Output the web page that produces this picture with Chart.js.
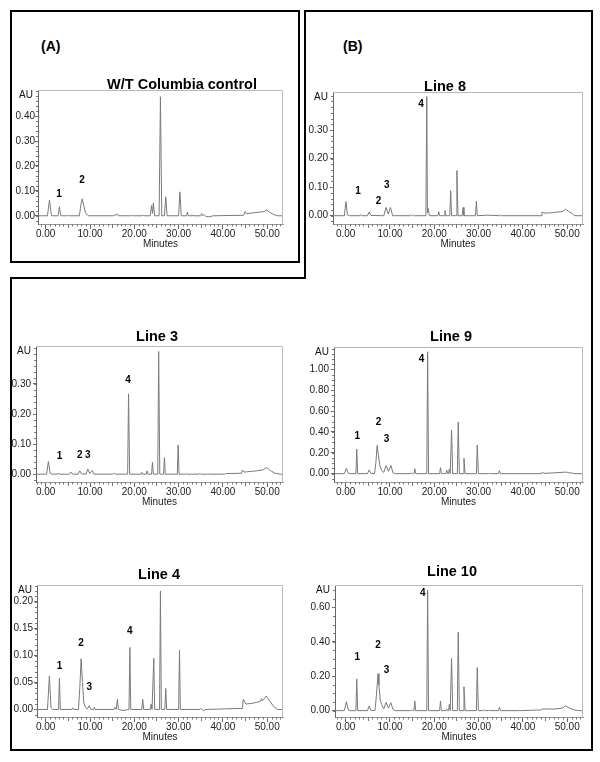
<!DOCTYPE html>
<html lang="en">
<head>
<meta charset="UTF-8">
<title>HPLC chromatograms | W/T and lines</title>
<script src="https://cdn.jsdelivr.net/npm/chart.js"></script>
<style>
  body { margin: 0; background: #fff; width: 600px; height: 762px; position: relative; overflow: hidden;
         font-family: "Liberation Sans", Arial, sans-serif; }
  canvas { position: absolute; }
  .tag { position: absolute; font-weight: bold; font-size: 14px; line-height: 14px; color: #000; }
  svg { position: absolute; left: 0; top: 0; pointer-events: none; }
</style>
</head>
<body>
<div class="tag" style="left:41px;top:39px">(A)</div>
<div class="tag" style="left:343px;top:39px">(B)</div>

<canvas id="cWT"></canvas>
<canvas id="cL8"></canvas>
<canvas id="cL3"></canvas>
<canvas id="cL9"></canvas>
<canvas id="cL4"></canvas>
<canvas id="cL10"></canvas>

<svg width="600" height="762">
  <rect x="11" y="11" width="288" height="251" fill="none" stroke="#000" stroke-width="2"/>
  <polygon points="305,11 592,11 592,750 11,750 11,278 305,278" fill="none" stroke="#000" stroke-width="2"/>
</svg>

<script>
// x ticks (minutes), shared by all panels
const minuteTicks = [0, 10, 20, 30, 40, 50];

// traces: [minutes, AU]
const wtTrace = [[-1.9,0],[0.4,0],[0.85,0.063],[1.3,0],[2.8,0],[3.1,0.036],[3.4,0],[4.9,0],[5.1,0.003],[5.3,0],
  [7.6,0],[8.0,0.05],[8.25,0.068],[8.6,0.04],[9.0,0.012],[9.6,0],[15.4,0],[15.6,0.005],[15.9,0.001],[16.2,0.008],[16.5,0],
  [19.2,0],[19.4,0.002],[19.6,0],[21.7,0],[21.9,0.004],[22.1,0],[23.6,0],[23.9,0.041],[24.1,0.01],[24.3,0.052],[24.6,0],
  [25.6,0],[25.9,0.478],[26.2,0],[26.8,0],[27.1,0.076],[27.4,0],[30.0,0],[30.3,0.096],[30.6,0],[31.8,0],[32.0,0.015],[32.2,0],
  [32.8,0],[33.0,0.004],[33.2,0],[35.0,0],[35.2,0.009],[35.4,0.001],[35.8,0.004],[36.2,-0.003],[37.0,-0.004],[37.8,0],
  [44.7,0.002],[45.0,0.017],[45.3,0.008],[46.5,0.011],[48.0,0.014],[49.3,0.017],[49.8,0.024],[50.5,0.015],[51.5,0.005],[52.3,0],[53.6,0]];
const wtPeaks = [['1',3.0,0.087],['2',8.2,0.143]];
const wtAUTicks = [0, 0.1, 0.2, 0.3, 0.4];

const l8Trace = [[-2.9,0],[-0.3,0],[0.05,0.049],[0.4,0.003],[0.8,0],[3.3,0],[3.5,0.004],[3.7,0],[4.9,0],[5.3,0.013],[5.7,0.001],
  [8.6,0],[9.1,0.029],[9.6,0.006],[10.1,0.029],[10.6,0],[14.5,0],[14.7,0.003],[14.9,0],[15.1,0],[15.3,0.003],[15.5,0],
  [18.1,0],[18.3,0.417],[18.45,0.01],[18.6,0.026],[18.9,0],[20.8,0],[21.0,0.014],[21.2,0],[22.2,0],[22.4,0.018],[22.6,0],
  [23.5,0],[23.7,0.088],[23.9,0],[24.9,0],[25.1,0.158],[25.35,0],[26.3,0],[26.5,0.029],[26.7,0],[29.3,0],[29.5,0.051],[29.7,0],
  [32.0,0.002],[34.8,0],[35.0,0.003],[35.2,0],[44.1,0],[44.3,0.013],[45.0,0.009],[47.0,0.011],[48.5,0.014],[49.0,0.015],
  [49.6,0.023],[50.3,0.015],[51.0,0.009],[51.7,0],[53.6,0]];
const l8Peaks = [['1',2.8,0.086],['2',7.4,0.049],['3',9.3,0.106],['4',17.0,0.39]];
const l8AUTicks = [0, 0.1, 0.2, 0.3];

const l3Trace = [[-2,0],[0.2,0],[0.6,0.042],[1.0,0.003],[1.4,0],[2.7,0],[2.9,0.004],[3.1,0],[5.3,0],[5.7,0.007],[6.1,0],
  [7.3,0],[7.7,0.011],[8.1,0.001],[9.1,0],[9.5,0.017],[9.95,0.002],[10.5,0.012],[10.9,0],[15.1,0],[15.3,0.002],[15.6,0.002],[15.8,0],
  [18.5,0],[18.7,0.267],[18.95,0],[21.5,0],[21.7,0.006],[21.9,0],[22.7,0],[22.9,0.011],[23.1,0],[23.9,0],[24.1,0.04],[24.3,0],
  [25.3,0],[25.5,0.408],[25.75,0],[26.6,0],[26.8,0.055],[27.0,0],[29.7,0],[29.9,0.097],[30.1,0],[31.6,0],[31.8,0.002],[32.0,0],
  [34.6,0],[34.8,0.003],[35.0,0],[36.5,0],[36.7,0.001],[36.9,0],[40.4,0],[40.6,0.002],[44.2,0.003],[44.4,0.014],[44.8,0.007],
  [45.5,0.008],[47.5,0.011],[49.0,0.014],[49.9,0.022],[50.7,0.012],[51.8,0.003],[53.0,0],[53.6,0]];
const l3Peaks = [['1',3.1,0.061],['2',7.7,0.063],['3',9.5,0.064],['4',18.6,0.313]];
const l3AUTicks = [0, 0.1, 0.2, 0.3];

const l9Trace = [[-2.9,0],[-0.3,0],[0.15,0.051],[0.6,0.003],[1.0,0],[2.3,0],[2.5,0.236],[2.7,0],[4.9,0],[5.3,0.035],[5.7,0.002],
  [6.5,0],[6.8,0.1],[7.1,0.272],[7.3,0.2],[7.7,0.08],[8.1,0.03],[8.6,0.012],[9.1,0.077],[9.65,0.022],[10.2,0.08],[10.7,0.005],[11.2,0],
  [14.7,0],[14.9,0.006],[15.1,0],[15.4,0],[15.6,0.048],[15.8,0],[18.3,0],[18.5,1.169],[18.7,0],[21.2,0],[21.4,0.058],[21.6,0],
  [22.6,0],[22.8,0.035],[23.0,0],[23.2,0],[23.4,0.045],[23.6,0],[23.7,0],[23.9,0.419],[24.15,0],[25.2,0],[25.4,0.495],[25.65,0],
  [26.5,0],[26.7,0.147],[26.95,0],[29.5,0],[29.7,0.275],[29.95,0],[32.2,0],[32.4,0.003],[32.6,0],[34.5,0],[34.7,0.029],[34.95,0],
  [44.2,0],[44.4,0.016],[44.7,0.003],[47.2,0.008],[49.8,0.015],[50.6,0.006],[51.0,0.01],[51.3,0.002],[52.0,0],[53.6,0]];
const l9Peaks = [['1',2.6,0.361],['2',7.4,0.489],['3',9.2,0.332],['4',17.1,1.102]];
const l9AUTicks = [0, 0.2, 0.4, 0.6, 0.8, 1.0];

const l4Trace = [[-2,0],[0.4,0],[0.83,0.062],[1.2,0.003],[1.6,0],[2.9,0],[3.1,0.058],[3.3,0],[5.9,0],[6.1,0.003],[6.3,0],
  [7.4,0],[7.7,0.04],[8.0,0.094],[8.3,0.05],[8.6,0.012],[9.0,0.004],[9.4,0.001],[9.8,0.007],[10.2,0],[10.8,0],[11.0,0.004],[11.2,0],
  [15.4,0],[15.6,0.004],[15.9,0],[16.0,0],[16.2,0.019],[16.4,0],[17.4,-0.002],[18.8,0],[19.0,0.115],[19.2,0],[21.7,0],[21.9,0.019],[22.1,0],
  [23.6,0],[23.8,0.01],[24.0,0],[24.2,0],[24.4,0.095],[24.6,0],[25.7,0],[25.9,0.22],[26.1,0],[26.9,0],[27.1,0.039],[27.3,0],
  [30.0,0],[30.2,0.11],[30.4,0],[34.8,0],[35.0,0.002],[35.6,-0.002],[36.2,0],[44.4,0.002],[44.6,0.019],[45.2,0.01],[47.0,0.012],
  [48.5,0.015],[48.7,0.02],[48.9,0.016],[49.8,0.025],[50.6,0.015],[51.5,0.005],[52.3,0],[53.6,0]];
const l4Peaks = [['1',3.1,0.080],['2',8.0,0.123],['3',9.85,0.042],['4',19.0,0.146]];
const l4AUTicks = [0, 0.05, 0.1, 0.15, 0.2];

const l10Trace = [[-2.9,0],[-0.3,0],[0.15,0.052],[0.6,0.003],[1.0,0],[2.3,0],[2.5,0.184],[2.7,0],[4.9,0],[5.3,0.027],[5.7,0.002],
  [6.6,0],[6.9,0.08],[7.3,0.215],[7.5,0.15],[7.8,0.06],[8.1,0.035],[8.6,0.01],[9.1,0.048],[9.65,0.015],[10.2,0.046],[10.7,0.005],[11.2,0],
  [14.7,0],[14.9,0.005],[15.1,0],[15.4,0],[15.6,0.056],[15.8,0],[18.3,0],[18.5,0.70],[18.7,0],[21.2,0],[21.4,0.056],[21.6,0],
  [22.6,0],[22.8,0.01],[23.0,0],[23.2,0],[23.4,0.037],[23.6,0],[23.7,0],[23.9,0.304],[24.15,0],[25.2,0],[25.4,0.455],[25.65,0],
  [26.5,0],[26.7,0.139],[26.95,0],[29.5,0],[29.7,0.25],[29.95,0],[31.1,0],[31.3,0.006],[31.5,0],[32.2,0],[32.4,0.004],[32.6,0],
  [34.5,0],[34.7,0.019],[34.95,0],[39.1,0],[39.3,0.002],[39.5,0],[44.2,0.004],[44.4,0.01],[47.0,0.009],[49.0,0.015],[49.6,0.027],
  [50.5,0.015],[51.5,0.005],[52.5,0],[53.6,0]];
const l10Peaks = [['1',2.6,0.31],['2',7.3,0.379],['3',9.2,0.234],['4',17.4,0.681]];
const l10AUTicks = [0, 0.2, 0.4, 0.6];

const FONT = "'Liberation Sans', Arial, sans-serif";
Chart.defaults.font.family = FONT;

const AXIS_W = 34, TOP_PAD = 30, XAXIS_H = 26, PX_PER_MIN = 4.43;

// box = plot frame [left, top, right, bottom] in page px; zeroX = page x of 0.00 min
const panels = [
  { id: 'cWT', title: 'W/T Columbia control', trace: wtTrace, peaks: wtPeaks, yTicks: wtAUTicks,
    yMin: -0.033, yMax: 0.505, yMinor: 0.02, box: [38, 90, 283, 224], zeroX: 45.7, titleAt: [182, 89], labelPad: 0 },
  { id: 'cL8', title: 'Line 8', trace: l8Trace, peaks: l8Peaks, yTicks: l8AUTicks,
    yMin: -0.029, yMax: 0.433, yMinor: 0.02, box: [333, 92, 583, 224], zeroX: 345.7, titleAt: [445, 91], labelPad: 2 },
  { id: 'cL3', title: 'Line 3', trace: l3Trace, peaks: l3Peaks, yTicks: l3AUTicks,
    yMin: -0.026, yMax: 0.426, yMinor: 0.02, box: [36, 346, 283, 482], zeroX: 45.7, titleAt: [157, 341], labelPad: 2 },
  { id: 'cL9', title: 'Line 9', trace: l9Trace, peaks: l9Peaks, yTicks: l9AUTicks,
    yMin: -0.08, yMax: 1.215, yMinor: 0.05, box: [334, 347, 583, 482], zeroX: 345.7, titleAt: [451, 341], labelPad: 2 },
  { id: 'cL4', title: 'Line 4', trace: l4Trace, peaks: l4Peaks, yTicks: l4AUTicks,
    yMin: -0.014, yMax: 0.231, yMinor: 0.01, box: [37, 585, 283, 717], zeroX: 45.7, titleAt: [159, 579], labelPad: 1 },
  { id: 'cL10', title: 'Line 10', trace: l10Trace, peaks: l10Peaks, yTicks: l10AUTicks,
    yMin: -0.037, yMax: 0.73, yMinor: 0.05, box: [335, 585, 583, 717], zeroX: 345.7, titleAt: [452, 576], labelPad: 2 }
];

function decorPlugin(p, cLeft, cTop) {
  return {
    id: 'decor',
    afterDraw(chart) {
      const { ctx, chartArea: a, scales: { x, y } } = chart;
      ctx.save();
      // light frame on top and right
      ctx.strokeStyle = '#b8b8b8';
      ctx.lineWidth = 1;
      ctx.beginPath();
      ctx.moveTo(a.left, a.top + 0.5);
      ctx.lineTo(a.right - 0.5, a.top + 0.5);
      ctx.lineTo(a.right - 0.5, a.bottom);
      ctx.stroke();

      // minor ticks
      ctx.strokeStyle = '#777';
      ctx.beginPath();
      for (let m = Math.ceil(x.min); m <= x.max; m++) {
        if (m % 10 === 0) continue;
        const px = Math.round(x.getPixelForValue(m)) + 0.5;
        ctx.moveTo(px, a.bottom);
        ctx.lineTo(px, a.bottom + (m % 5 === 0 ? 4 : 2.5));
      }
      for (let k = Math.ceil(y.min / p.yMinor); k * p.yMinor <= y.max; k++) {
        const py = Math.round(y.getPixelForValue(k * p.yMinor)) + 0.5;
        ctx.moveTo(a.left, py);
        ctx.lineTo(a.left - 2, py);
      }
      ctx.stroke();

      ctx.fillStyle = '#111';
      ctx.font = '10px ' + FONT;
      ctx.textAlign = 'right';
      ctx.textBaseline = 'middle';
      ctx.fillText('AU', a.left - 5, a.top + 5);

      ctx.font = 'bold 14.5px ' + FONT;
      ctx.textAlign = 'center';
      ctx.textBaseline = 'alphabetic';
      ctx.fillStyle = '#000';
      ctx.fillText(p.title, p.titleAt[0] - cLeft, p.titleAt[1] - cTop);

      ctx.font = 'bold 10px ' + FONT;
      ctx.textBaseline = 'middle';
      p.peaks.forEach(([n, t, v]) => {
        ctx.fillText(n, x.getPixelForValue(t), y.getPixelForValue(v));
      });
      ctx.restore();
    }
  };
}

panels.forEach(p => {
  const [L, T, R, B] = p.box;
  const cLeft = L - AXIS_W, cTop = T - TOP_PAD;
  const canvas = document.getElementById(p.id);
  canvas.width = R - L + AXIS_W + 4;
  canvas.height = B - T + TOP_PAD + XAXIS_H + 2;
  canvas.style.left = cLeft + 'px';
  canvas.style.top = cTop + 'px';

  new Chart(canvas, {
    type: 'line',
    data: {
      datasets: [{
        data: p.trace.map(([t, v]) => ({ x: t, y: v })),
        borderColor: '#7a7a7a',
        borderWidth: 1,
        pointRadius: 0,
        tension: 0,
        fill: false
      }]
    },
    options: {
      responsive: false,
      animation: false,
      devicePixelRatio: 1,
      layout: { padding: { top: TOP_PAD, right: 4, bottom: 2, left: 0 } },
      plugins: { legend: { display: false }, tooltip: { enabled: false } },
      scales: {
        x: {
          type: 'linear',
          min: (L - p.zeroX) / PX_PER_MIN,
          max: (R - p.zeroX) / PX_PER_MIN,
          afterFit: s => { s.height = XAXIS_H; },
          afterBuildTicks: s => { s.ticks = minuteTicks.map(v => ({ value: v })); },
          ticks: { callback: v => v.toFixed(2), font: { size: 10 }, color: '#222', padding: -1, maxRotation: 0, autoSkip: false },
          grid: { drawOnChartArea: false, tickLength: 5, color: '#666' },
          border: { color: '#999' },
          title: { display: true, text: 'Minutes', font: { size: 10 }, color: '#222', padding: 0 }
        },
        y: {
          min: p.yMin,
          max: p.yMax,
          afterFit: s => { s.width = AXIS_W; },
          afterBuildTicks: s => { s.ticks = p.yTicks.map(v => ({ value: v })); },
          ticks: { callback: v => v.toFixed(2), font: { size: 10 }, color: '#222', padding: p.labelPad, autoSkip: false },
          grid: { drawOnChartArea: false, tickLength: 3, color: '#666' },
          border: { color: '#666' }
        }
      }
    },
    plugins: [decorPlugin(p, cLeft, cTop)]
  });
});
</script>
</body>
</html>
